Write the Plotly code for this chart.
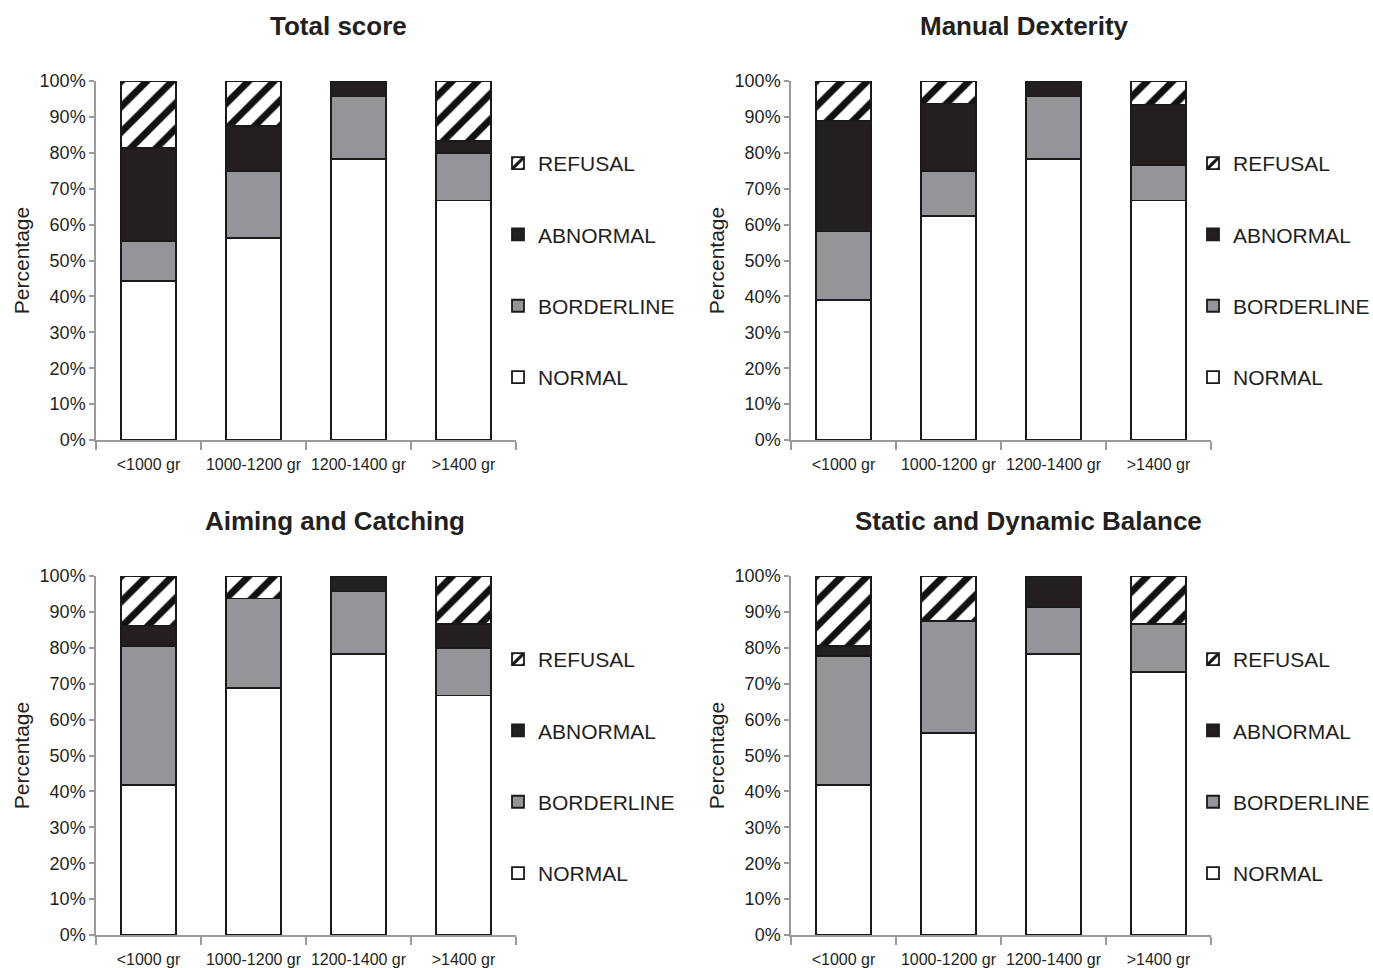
import plotly.graph_objects as go

categories = ["<1000 gr", "1000-1200 gr", "1200-1400 gr", ">1400 gr"]
series_names = ["NORMAL", "BORDERLINE", "ABNORMAL", "REFUSAL"]

# values in percent, per panel
total_normal = [44.4, 56.25, 78.3, 66.7]
total_borderline = [11.1, 18.75, 17.4, 13.3]
total_abnormal = [25.9, 12.5, 4.3, 3.3]
total_refusal = [18.6, 12.5, 0.0, 16.7]

manual_normal = [38.9, 62.5, 78.3, 66.7]
manual_borderline = [19.2, 12.5, 17.4, 10.0]
manual_abnormal = [30.8, 18.75, 4.3, 16.6]
manual_refusal = [11.1, 6.25, 0.0, 6.7]

aiming_normal = [41.7, 68.75, 78.3, 66.7]
aiming_borderline = [38.9, 25.0, 17.4, 13.3]
aiming_abnormal = [5.6, 0.0, 4.3, 6.7]
aiming_refusal = [13.8, 6.25, 0.0, 13.3]

balance_normal = [41.7, 56.25, 78.3, 73.3]
balance_borderline = [36.1, 31.25, 13.0, 13.3]
balance_abnormal = [2.8, 0.0, 8.7, 0.0]
balance_refusal = [19.4, 12.5, 0.0, 13.4]

panel_titles = ["Total score", "Manual Dexterity", "Aiming and Catching", "Static and Dynamic Balance"]
panels = [
    [total_normal, total_borderline, total_abnormal, total_refusal],
    [manual_normal, manual_borderline, manual_abnormal, manual_refusal],
    [aiming_normal, aiming_borderline, aiming_abnormal, aiming_refusal],
    [balance_normal, balance_borderline, balance_abnormal, balance_refusal],
]

W, H = 1373, 968
FONT = "Liberation Sans, Arial, Helvetica, sans-serif"
EDGE = "#1a1a1a"
AXIS = "#9a9a9a"
TXT = "#231f20"

def px(x):
    return x / W

def py(y):
    return 1 - y / H

# pixel geometry per panel: (x_left, x_right, y_zero, y_hundred)
geo = [
    (96, 516, 440, 81),
    (791, 1211, 440, 81),
    (96, 516, 935, 576),
    (791, 1211, 935, 576),
]
title_pos = [(338, 26), (1024, 26), (335, 521), (1028, 521)]
legend_pos = [(498, 143), (1193, 143), (498, 639), (1193, 639)]
ranks = {"REFUSAL": 1, "ABNORMAL": 2, "BORDERLINE": 3, "NORMAL": 4}

styles = {
    "NORMAL": dict(color="white"),
    "BORDERLINE": dict(color="#939598"),
    "ABNORMAL": dict(color="#231f20"),
    "REFUSAL": dict(color="white", pattern=dict(shape="/", fgcolor="#111111", bgcolor="white",
                                                 size=18, solidity=0.38, fillmode="replace",
                                                 fgopacity=1)),
}

fig = go.Figure()
for i, vals in enumerate(panels):
    ax = "" if i == 0 else str(i + 1)
    leg = "legend" if i == 0 else f"legend{i + 1}"
    for name, v in zip(series_names, vals):
        st = styles[name]
        marker = dict(color=st["color"], line=dict(color=EDGE, width=1.8))
        if "pattern" in st:
            marker["pattern"] = st["pattern"]
        fig.add_trace(go.Bar(
            x=categories, y=v, name=name, marker=marker,
            xaxis="x" + ax, yaxis="y" + ax, legend=leg,
            legendgroup=f"{name}{i}", legendrank=ranks[name], width=0.52,
            hoverinfo="skip",
        ))

layout = dict(
    template="none",
    width=W, height=H, barmode="stack",
    margin=dict(l=0, r=0, t=0, b=0, autoexpand=False),
    paper_bgcolor="white", plot_bgcolor="white",
    font=dict(family=FONT, color=TXT),
    showlegend=True,
)
annotations = []
for i, (xl, xr, y0, y100) in enumerate(geo):
    ax = "" if i == 0 else str(i + 1)
    layout["xaxis" + ax] = dict(
        domain=[px(xl), px(xr)], anchor="y" + ax, type="category",
        showline=True, linecolor=AXIS, linewidth=1.5, automargin=False,
        ticks="outside", ticklen=8, tickcolor=AXIS, tickwidth=1.5, tickson="boundaries",
        ticklabelstandoff=9,
        tickangle=0, tickfont=dict(size=16, color=TXT), showgrid=False, zeroline=False,
        range=[-0.5, 3.5], fixedrange=True,
    )
    layout["yaxis" + ax] = dict(
        domain=[py(y0), py(y100)], anchor="x" + ax, range=[0, 100], automargin=False,
        dtick=10, ticksuffix="%", showline=True, linecolor=AXIS, linewidth=1.5,
        ticks="outside", ticklen=5, tickcolor=AXIS, tickwidth=1.5,
        tickfont=dict(size=18, color=TXT), showgrid=False, zeroline=False,
        title=dict(text="Percentage", font=dict(size=21, color=TXT), standoff=4),
        fixedrange=True,
    )
    leg = "legend" if i == 0 else f"legend{i + 1}"
    lx, ly = legend_pos[i]
    layout[leg] = dict(
        x=px(lx), y=py(ly), xanchor="left", yanchor="top",
        traceorder="grouped", tracegroupgap=41,
        font=dict(size=21, color=TXT), bgcolor="rgba(0,0,0,0)",
        itemwidth=30,
    )
    tx, ty = title_pos[i]
    annotations.append(dict(
        text=f"<b>{panel_titles[i]}</b>", x=px(tx), y=py(ty), xref="paper", yref="paper",
        xanchor="center", yanchor="middle", showarrow=False,
        font=dict(size=26, color=TXT, family=FONT),
    ))
layout["annotations"] = annotations
fig.update_layout(**layout)
fig.write_html("out.html", config={"displayModeBar": False},
               post_script="document.body.style.margin='0';document.body.style.overflow='hidden';")
